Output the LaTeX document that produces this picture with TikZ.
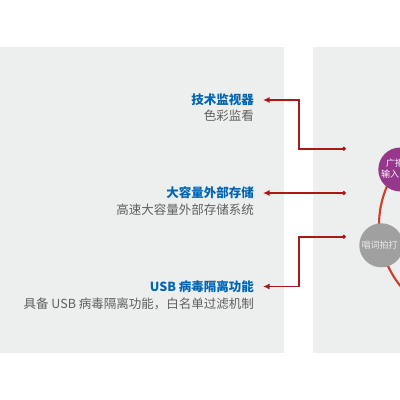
\documentclass[tikz,border=0pt]{standalone}
\usepackage{fontspec}
\setmainfont{Noto Sans CJK SC}
\usetikzlibrary{arrows.meta}
\definecolor{panel}{RGB}{237,238,238}
\definecolor{ttl}{RGB}{0,102,180}
\definecolor{subc}{RGB}{95,95,95}
\definecolor{arr}{RGB}{172,24,24}
\definecolor{ring}{RGB}{205,62,40}
\definecolor{purp}{RGB}{150,55,140}
\definecolor{grayc}{RGB}{160,160,160}
\begin{document}
\begin{tikzpicture}[x=1pt,y=-1pt,
  titlebox/.style={anchor=east,font=\fontsize{12.5}{14}\selectfont\bfseries,text=ttl,inner xsep=9pt,inner ysep=0pt},
  subbox/.style={anchor=east,font=\fontsize{12.5}{14}\selectfont,text=subc,inner sep=0pt},
  conn/.style={draw=arr,line width=1.7pt,{Latex[length=6.5pt,width=6pt]}-{Circle[length=3.8pt]}},
  bubble/.style={circle,minimum size=44pt,inner sep=0pt},
  btext/.style={anchor=west,font=\fontsize{9}{10}\selectfont,text=white,inner sep=0pt}]
\useasboundingbox (0,0) rectangle (400,400);
\fill[panel] (0,47) rectangle (284,353);
\fill[panel] (313,47) rectangle (400,353);
\begin{scope}
  \clip (313,47) rectangle (400,353);
  \draw[ring,line width=2.1pt] (476.7,225) circle[radius=97.7pt];
  \node[bubble,fill=purp] (p) at (400.3,169.5) {};
  \node[bubble,fill=grayc] (g) at (381.3,245.3) {};
  \node[btext] (p1) at (386,163.5) {广播};
  \node[btext] (p2) at (381,174) {输入};
  \node[btext,text={rgb,255:red,235;green,235;blue,235}] (g1) at (361.5,245.5) {唱词拍打};
\end{scope}
\node[titlebox] (t1) at (263,100) {技术监视器};
\node[subbox] (s1) at (254,115.5) {色彩监看};
\node[titlebox] (t2) at (263,193) {大容量外部存储};
\node[subbox] (s2) at (254,209.5) {高速大容量外部存储系统};
\node[titlebox] (t3) at (263,286.5) {USB 病毒隔离功能};
\node[subbox] (s3) at (254,303.5) {具备 USB 病毒隔离功能，白名单过滤机制};
\coordinate (k) at (299,0);
\coordinate (e1) at (345.7,148.7);
\coordinate (e2) at (345.7,193);
\coordinate (e3) at (345.7,236.7);
\draw[conn] (t1.east) -| (k |- e1) -- (e1);
\draw[conn] (t2.east) -- (e2);
\draw[conn] (t3.east) -| (k |- e3) -- (e3);
\end{tikzpicture}
\end{document}
